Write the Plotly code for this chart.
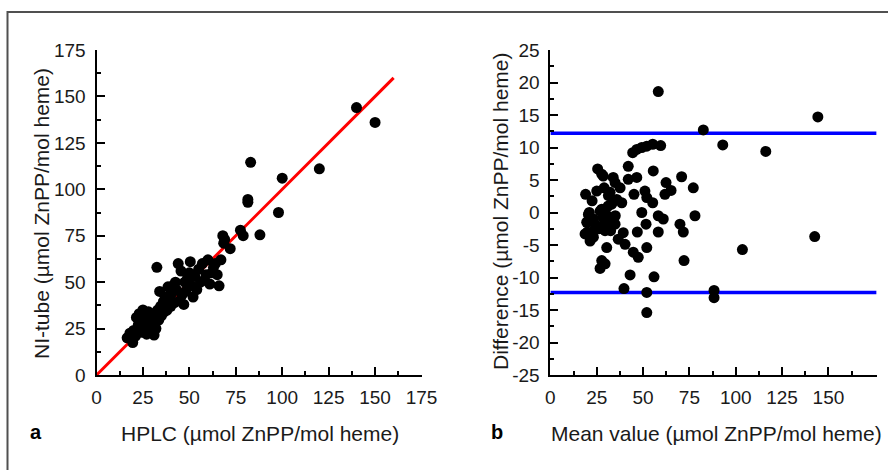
import plotly.graph_objects as go

# Panel a: HPLC (x) vs NI-tube (y)
hplc = [16.5, 18, 19.5, 20, 21, 21.5, 22.5, 23, 24, 24.5, 25, 25.5, 26, 26.5, 27, 27.5, 28, 28.5,
        29, 29.5, 30, 30.5, 31, 31.5, 32, 32.5, 33, 33.5, 34, 34.5, 35, 35.5, 36, 36.5, 37, 37.5,
        38, 38.5, 39, 40, 40.5, 41, 42, 42.5, 43, 44, 45, 45.5, 46, 47, 47.5, 48, 49, 50, 50.5,
        51, 52, 53, 54, 55, 56, 57, 58, 59, 60, 61, 62, 63, 64, 65, 66, 67, 68, 68.5, 69, 72,
        77.5, 79, 81.5, 81.5, 83, 88, 98, 100, 120, 140, 150]
nitube = [20, 22.5, 17.5, 24, 21, 31, 27, 33, 29, 23, 35, 30, 26, 32, 22, 28, 34, 24.5,
          30.5, 26, 33, 28, 21.5, 31, 25, 58, 35, 29.5, 45, 37, 32, 36, 39.5, 34, 42, 38,
          35, 47.5, 41, 37, 44, 48, 39, 50, 46, 60, 40, 56, 43, 38, 50, 45, 52, 55, 61,
          48, 42, 53, 46, 57, 50, 60, 51, 54, 62, 49, 55, 58, 60, 54, 48, 62, 75, 71, 73, 68,
          78, 75, 94.5, 93, 114.5, 75.5, 87.5, 106, 111, 144, 136]
identity_x = [0, 160]
identity_y = [0, 160]

# Panel b: Bland-Altman (mean vs difference)
mean_val = [18.7, 19.0, 19.6, 20.5, 21.0, 21.4, 21.4, 23.2, 23.2, 24.1, 25.0, 25.5, 26.8, 26.8,
            27.7, 27.7, 27.7, 27.7, 28.5, 28.5, 29.5, 29.5, 30.4, 31.2, 31.2, 31.3, 31.3, 32.2,
            33.1, 33.9, 33.9, 34.9, 34.9, 35.8, 36.6, 37.6, 38.5, 39.3, 39.7, 40.3, 42.0, 42.0,
            43.0, 44.4, 44.7, 45.1, 46.6, 46.6, 46.9, 47.4, 49.3, 49.3, 51.0, 51.6, 52.0, 52.0,
            52.0, 52.0, 52.0, 55.2, 55.2, 55.5, 55.9, 58.2, 58.2, 58.2, 59.5, 60.9, 61.8, 62.4,
            65.1, 69.9, 70.8, 71.7, 72.1, 77.1, 78.0, 82.5, 88.3, 88.3, 93.0, 103.6, 116.2,
            142.6, 144.3, 22.5, 26.0, 29.0, 32.5, 35.0, 24.0, 20.0, 30.0]
difference = [-3.3, 2.8, -1.5, -0.3, 0.0, -1.3, -4.4, -1.0, -3.8, -2.6, 3.3, 6.7, 0.2, -8.6,
              5.9, 0.5, -2.1, -7.4, 5.6, -0.8, -2.8, -7.9, -5.4, 1.0, -2.1, 2.6, -1.0, 3.1,
              1.3, 5.4, -1.3, 4.6, -1.8, 2.0, -4.1, 3.8, 1.5, -3.1, -11.7, -4.9, 7.1, 5.1,
              -9.6, 9.2, -6.1, 2.8, 9.7, 5.4, -3.0, -6.9, 10.0, 0.0, 3.3, -1.8, 10.2, 2.3,
              -5.4, -12.3, -15.4, 10.5, 1.5, 6.4, -9.9, 18.6, -0.5, -3.0, 10.3, -1.0, 2.8, 4.6,
              3.4, -1.8, 5.5, -3.0, -7.4, 3.8, -0.5, 12.7, -12.0, -13.1, 10.4, -5.7, 9.4,
              -3.7, 14.7, 1.8, -2.5, 3.8, -2.8, -0.5, -1.8, -3.0, -0.3]
loa_upper = 12.2
loa_lower = -12.3
loa_x = [0, 176]

tick_a = [0, 25, 50, 75, 100, 125, 150, 175]
tick_bx = [0, 25, 50, 75, 100, 125, 150]
tick_by = [-25, -20, -15, -10, -5, 0, 5, 10, 15, 20, 25]
tick_by_text = ["-25", "-20", "-15", "-10", "-5", "0", "5", "10", "15", "20", "25"]
minor_a = [12.5, 37.5, 62.5, 87.5, 112.5, 137.5, 162.5]
minor_by = [-22.5, -17.5, -12.5, -7.5, -2.5, 2.5, 7.5, 12.5, 17.5, 22.5]

W, H = 888, 470
FONT = "Liberation Sans, Arial, sans-serif"

def px(x):
    return x / W

def py(y):
    return (H - y) / H

fig = go.Figure()

fig.add_trace(go.Scatter(x=identity_x, y=identity_y, mode="lines",
                         line=dict(color="#ff0000", width=3), xaxis="x", yaxis="y",
                         showlegend=False, hoverinfo="skip"))
fig.add_trace(go.Scatter(x=hplc, y=nitube, mode="markers",
                         marker=dict(color="black", size=11), xaxis="x", yaxis="y",
                         showlegend=False))

for v in (loa_upper, loa_lower):
    fig.add_trace(go.Scatter(x=loa_x, y=[v, v], mode="lines",
                             line=dict(color="#0000ff", width=3.5), xaxis="x2", yaxis="y2",
                             showlegend=False, hoverinfo="skip"))
fig.add_trace(go.Scatter(x=mean_val, y=difference, mode="markers",
                         marker=dict(color="black", size=11), xaxis="x2", yaxis="y2",
                         showlegend=False))

ydom = [py(375), py(50)]

common = dict(showgrid=False, zeroline=False, showline=True, linecolor="black", linewidth=2,
              ticks="inside", ticklen=8, tickwidth=2, tickcolor="black", automargin=False,
              tickfont=dict(family=FONT, size=19, color="#1a1a1a"), fixedrange=True)

def minor(vals):
    return dict(ticks="inside", ticklen=4, tickwidth=2, tickcolor="black", tickvals=vals,
                showgrid=False)

fig.update_layout(
    template="none",
    width=W, height=H, margin=dict(l=0, r=0, t=0, b=0, pad=0, autoexpand=False),
    paper_bgcolor="white", plot_bgcolor="white", showlegend=False,
    xaxis=dict(domain=[px(96.5), px(421.5)], range=[0, 175], tickvals=tick_a,
               minor=minor(minor_a), anchor="y", ticklabelstandoff=4, **common),
    yaxis=dict(domain=ydom, range=[0, 175], tickvals=tick_a,
               minor=minor(minor_a), anchor="x", ticklabelstandoff=5, **common),
    xaxis2=dict(domain=[px(550.4), px(876.6)], range=[0, 176], tickvals=tick_bx,
                minor=minor(minor_a), anchor="y2", ticklabelstandoff=4, **common),
    yaxis2=dict(domain=ydom, range=[-25, 25], tickvals=tick_by, ticktext=tick_by_text,
                minor=minor(minor_by), anchor="x2", ticklabelstandoff=5, **common),
)

ann = []
tf = dict(family=FONT, size=21, color="#1a1a1a")
ann.append(dict(text="HPLC (µmol ZnPP/mol heme)", x=px(260), y=py(433), xref="paper", yref="paper",
                showarrow=False, font=tf, xanchor="center", yanchor="middle"))
ann.append(dict(text="Mean value (µmol ZnPP/mol heme)", x=px(716), y=py(433), xref="paper", yref="paper",
                showarrow=False, font=tf, xanchor="center", yanchor="middle"))
ann.append(dict(text="NI-tube (µmol ZnPP/mol heme)", x=px(41), y=py(214), xref="paper", yref="paper",
                showarrow=False, font=tf, textangle=-90, xanchor="center", yanchor="middle"))
ann.append(dict(text="Difference (µmol ZnPP/mol heme)", x=px(500), y=py(212), xref="paper", yref="paper",
                showarrow=False, font=tf, textangle=-90, xanchor="center", yanchor="middle"))
lf = dict(family=FONT, size=20, color="black")
ann.append(dict(text="<b>a</b>", x=px(36), y=py(432), xref="paper", yref="paper",
                showarrow=False, font=lf, xanchor="center", yanchor="middle"))
ann.append(dict(text="<b>b</b>", x=px(497), y=py(432), xref="paper", yref="paper",
                showarrow=False, font=lf, xanchor="center", yanchor="middle"))
fig.update_layout(annotations=ann)

fig.add_shape(type="rect", xref="paper", yref="paper", x0=px(7.5), x1=1.05, y0=-0.05, y1=py(12),
              line=dict(color="#505050", width=2), fillcolor="rgba(0,0,0,0)", layer="below")

fig.write_html("out.html", config={"displayModeBar": False},
               post_script="document.body.style.margin='0';document.body.style.overflow='hidden';")
